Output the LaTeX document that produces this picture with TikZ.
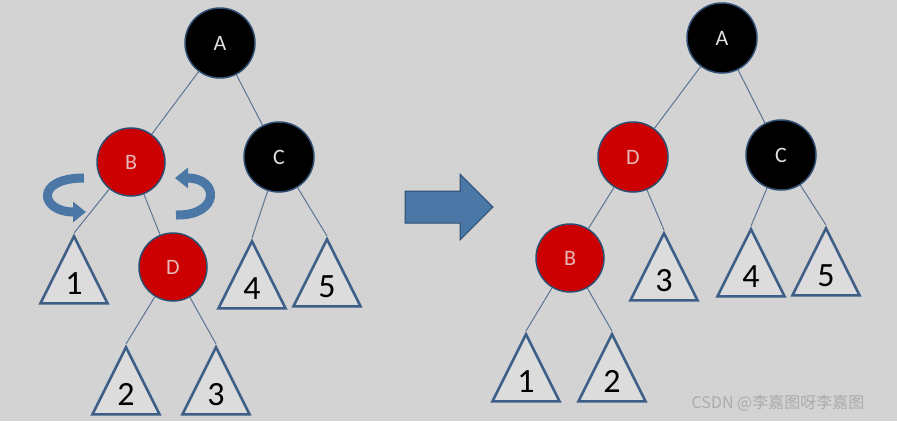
\documentclass[tikz,border=0pt]{standalone}
\usepackage{fontspec}
\setmainfont{Carlito}
\newfontfamily\cjk{Noto Sans CJK SC}
\usetikzlibrary{arrows.meta,shapes.geometric,shapes.arrows}
\definecolor{bggray}{HTML}{D3D3D3}
\definecolor{rim}{HTML}{2E4D72}
\definecolor{redfill}{HTML}{CC0000}
\definecolor{pinktext}{HTML}{E8B8B8}
\definecolor{linkc}{HTML}{5C7494}
\definecolor{tristroke}{HTML}{3D5E86}
\definecolor{trifill}{HTML}{DCDCDC}
\definecolor{arrowfill}{HTML}{4A77A6}
\definecolor{arrowrim}{HTML}{2E4B6E}

\begin{document}
\begin{tikzpicture}[x=1pt, y=-1pt,
  blacknode/.style={circle, draw=rim, line width=1.5pt, fill=black, minimum size=68pt, inner sep=0pt, text=black!12, font=\fontsize{22}{24}\selectfont},
  rednode/.style={blacknode, fill=redfill, text=pinktext},
  subtree/.style={isosceles triangle, isosceles triangle stretches, shape border rotate=90, minimum width=67pt, minimum height=67pt, inner sep=0pt, draw=tristroke, line width=2.5pt, fill=trifill, font=\fontsize{34}{36}\selectfont, anchor=apex},
  link/.style={draw=linkc, line width=1pt},
  turn/.style={draw=arrowfill, line width=9pt, -{Triangle[width=20pt, length=13pt]}},
  wmark/.style={text=black!33, font=\cjk\fontsize{16}{18}\selectfont}
]
  % canvas
  \fill[bggray] (0,0) rectangle (897,421);
  \useasboundingbox (0,0) rectangle (897,421);
  % Left tree (before rotation)
  \node[blacknode, minimum size=70pt] (A) at (220,43) {A};
  \node[rednode] (B) at (131,162) {B};
  \node[blacknode, minimum size=70pt] (C) at (279,157) {C};
  \node[rednode] (D) at (173,267) {D};
  \node[subtree] (t1) at (74,233) {1};
  \node[subtree] (t4) at (252,238) {4};
  \node[subtree] (t5) at (327,236) {5};
  \node[subtree] (t2) at (126,344) {2};
  \node[subtree] (t3) at (216,344) {3};
  \draw[link] (A) -- (B);
  \draw[link] (A) -- (C);
  \draw[link] (B) -- (t1.apex);
  \draw[link] (B) -- (D);
  \draw[link] (C) -- (t4.apex);
  \draw[link] (C) -- (t5.apex);
  \draw[link] (D) -- (t2.apex);
  \draw[link] (D) -- (t3.apex);
  % rotation hints
  \draw[turn] (84,178) .. controls (34,178) and (40,212) .. (86,212);
  \draw[turn] (176,215) .. controls (220,216) and (220,178) .. (175,178);
  % big arrow
  \node[single arrow, fill=arrowfill, draw=arrowrim, line width=1pt, single arrow head extend=17pt, inner xsep=0pt, inner ysep=15.5pt, minimum height=88pt, minimum width=65pt] (go) at (441,207) {};
  % Right tree (after rotation)
  \node[blacknode, minimum size=70pt] (rA) at (722,38) {A};
  \node[rednode, minimum size=70pt] (rD) at (633,157) {D};
  \node[blacknode, minimum size=70pt] (rC) at (781,155) {C};
  \node[rednode] (rB) at (570,258) {B};
  \node[subtree] (rt3) at (664,230) {3};
  \node[subtree] (rt4) at (751,226) {4};
  \node[subtree] (rt5) at (826,225) {5};
  \node[subtree] (rt1) at (526,331) {1};
  \node[subtree] (rt2) at (612,331) {2};
  \draw[link] (rA) -- (rD);
  \draw[link] (rA) -- (rC);
  \draw[link] (rD) -- (rB);
  \draw[link] (rD) -- (rt3.apex);
  \draw[link] (rC) -- (rt4.apex);
  \draw[link] (rC) -- (rt5.apex);
  \draw[link] (rB) -- (rt1.apex);
  \draw[link] (rB) -- (rt2.apex);
  % watermark
  \node[wmark] (csdn) at (778,403) {CSDN @李嘉图呀李嘉图};
\end{tikzpicture}
\end{document}
